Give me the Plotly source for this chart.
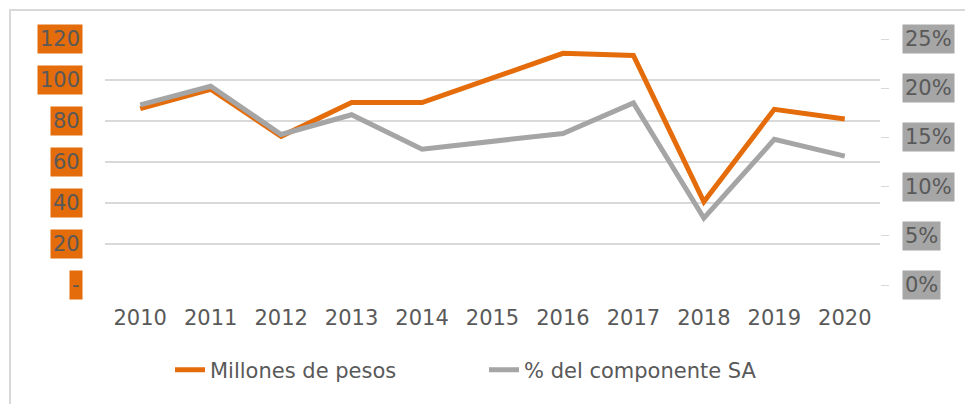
import plotly.graph_objects as go

years = ["2010", "2011", "2012", "2013", "2014", "2015", "2016", "2017", "2018", "2019", "2020"]
millones = [86, 95.5, 72.5, 89, 89, 101, 113, 112, 40.6, 85.7, 81]
pct_sa = [0.183, 0.202, 0.153, 0.173, 0.138, 0.146, 0.154, 0.185, 0.068, 0.148, 0.131]

left_ticks = [0, 20, 40, 60, 80, 100, 120]
left_labels = ["-", "20", "40", "60", "80", "100", "120"]
right_ticks = [0, 0.05, 0.10, 0.15, 0.20, 0.25]
right_labels = ["0%", "5%", "10%", "15%", "20%", "25%"]

ORANGE = "#E46C0A"
GRAY = "#A5A5A5"
TXT = "#595959"
FONT = "DejaVu Sans"
FS = 21

fig = go.Figure()
fig.add_trace(go.Scatter(x=years, y=millones, name="Millones de pesos", mode="lines",
                         line=dict(color=ORANGE, width=5), yaxis="y"))
fig.add_trace(go.Scatter(x=years, y=pct_sa, name="% del componente SA", mode="lines",
                         line=dict(color=GRAY, width=5), yaxis="y2"))

annotations = []
for v, t in zip(left_ticks, left_labels):
    annotations.append(dict(x=0, xref="paper", y=v, yref="y", text=t, showarrow=False,
                            xanchor="right", xshift=-22, bgcolor=ORANGE, borderpad=2,
                            font=dict(family=FONT, size=FS, color=TXT)))
for v, t in zip(right_ticks, right_labels):
    annotations.append(dict(x=1, xref="paper", y=v, yref="y2", text=t, showarrow=False,
                            xanchor="left", xshift=22, bgcolor="#A6A6A6", borderpad=2,
                            font=dict(family=FONT, size=FS, color=TXT)))

fig.update_layout(
    width=965, height=404,
    margin=dict(l=105, r=85, t=39, b=119, autoexpand=False),
    paper_bgcolor="white", plot_bgcolor="white",
    font=dict(family=FONT, size=FS, color=TXT),
    xaxis=dict(type="category", range=[-0.5, 10.5], showgrid=False, zeroline=False,
               showline=False, ticks="", ticklabelstandoff=18,
               tickfont=dict(family=FONT, size=FS, color=TXT)),
    yaxis=dict(range=[0, 120], tickvals=left_ticks, showticklabels=False,
               gridcolor="#D9D9D9", gridwidth=1.5, zeroline=False, showline=False),
    yaxis2=dict(range=[0, 0.25], overlaying="y", side="right", tickvals=right_ticks,
                showticklabels=False, showgrid=False, zeroline=False, showline=False,
                ticks="outside", ticklen=8, tickcolor="#D9D9D9", tickwidth=1),
    legend=dict(orientation="h", x=(170 - 105) / 775, xanchor="left", y=-0.3455, yanchor="middle",
                entrywidth=269, entrywidthmode="pixels",
                font=dict(family=FONT, size=FS, color=TXT), bgcolor="rgba(0,0,0,0)"),
    annotations=annotations,
    shapes=[dict(type="rect", xref="paper", yref="paper",
                 x0=-95/775, x1=1 + 200/775, y0=-200/246, y1=1 + 29/246,
                 line=dict(color="#D9D9D9", width=2), fillcolor="rgba(0,0,0,0)", layer="below")],
)

fig.write_html("out.html", config={"displayModeBar": False},
               post_script="document.body.style.margin='0';document.body.style.padding='0';")
